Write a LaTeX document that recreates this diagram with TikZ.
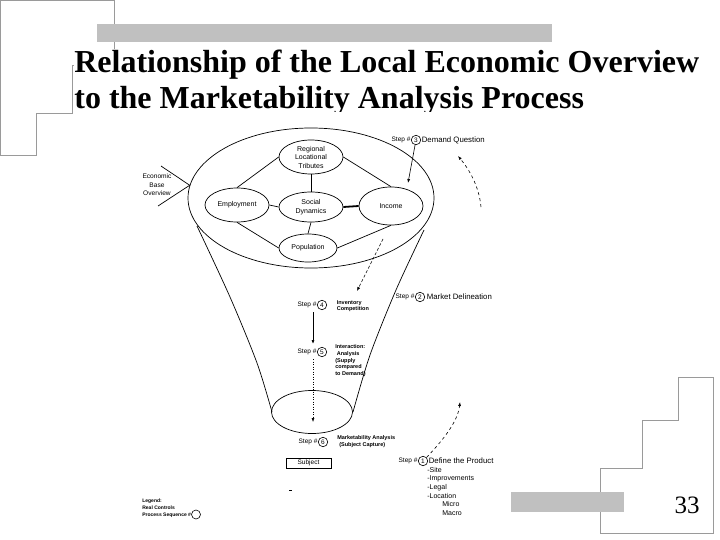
\documentclass[tikz,border=0pt]{standalone}
\usepackage{fontspec}
\setmainfont{Liberation Serif}
\newfontfamily\dsans{Liberation Sans}
\usetikzlibrary{shapes.geometric,arrows.meta}
\definecolor{stairc}{HTML}{9A9A9A}
\definecolor{barc}{HTML}{C0C0C0}
\begin{document}
\begin{tikzpicture}[x=1pt,y=-1pt,line width=0.7pt,
  titletext/.style={font=\fontsize{32}{37}\selectfont\bfseries, inner sep=0pt, anchor=base west},
  ell/.style={draw, ellipse, inner sep=0pt, align=center, font=\dsans\fontsize{7}{8.5}\selectfont},
  num/.style={draw, circle, minimum size=9.5pt, inner sep=0pt, line width=0.6pt, font=\dsans\fontsize{6.5}{6.5}\selectfont},
  steplab/.style={font=\dsans\fontsize{6.5}{7.5}\selectfont, inner sep=0pt, anchor=east},
  desc/.style={font=\dsans\fontsize{7.8}{8.6}\selectfont, inner sep=0pt, anchor=west, align=left},
  tiny/.style={font=\dsans\bfseries\fontsize{5.5}{6.6}\selectfont, inner sep=0pt, align=left},
  ar/.style={-{Latex[length=4pt,width=3pt]}},
  stairline/.style={draw=stairc, line width=1pt}]
\useasboundingbox (0,0) rectangle (720,540);
% decorations
\draw[stairline] (0.6,0.6) -- (114,0.6) -- (114,66) -- (72,66) -- (72,114) -- (36,114) -- (36,156) -- (0.6,156) -- cycle;
\fill[barc] (97,24) rectangle (552,42);
\fill[white] (74,49) rectangle (702,112);
\node[titletext] (title1) at (74,72.5) {Relationship of the Local Economic Overview};
\node[titletext] (title2) at (74,109) {to the Marketability Analysis Process};
\fill[white] (74,112) rectangle (620,127);
\draw[stairline] (678,377) -- (713,377) -- (713,533) -- (600,533) -- (600,468) -- (642,468) -- (642,420) -- (678,420) -- cycle;
\fill[barc] (511,492) rectangle (624,512);
\node[font=\fontsize{25}{25}\selectfont, inner sep=0pt, anchor=base east] (pg) at (700,513) {33};
% funnel
\node[draw, ellipse, minimum width=246pt, minimum height=140pt, inner sep=0pt] (big) at (311,198) {};
\node[draw, ellipse, minimum width=81pt, minimum height=43pt, inner sep=0pt] (base) at (312,412) {};
\draw plot[smooth] coordinates {(197,226) (230,297) (257,363) (272,412)};
\draw plot[smooth] coordinates {(424,230) (396,290) (370,355) (353,412)};
% inner ellipses
\node[ell, minimum width=64pt, minimum height=34pt] (reg) at (311,157) {Regional\\Locational\\Tributes};
\node[ell, minimum width=64pt, minimum height=34pt] (emp) at (237,205) {Employment};
\node[ell, minimum width=64pt, minimum height=30pt] (soc) at (311,207) {Social\\Dynamics};
\node[ell, minimum width=64pt, minimum height=38pt] (inc) at (391,206) {Income};
\node[ell, minimum width=58pt, minimum height=28pt] (pop) at (308,248) {Population};
\draw (reg.south) -- (soc.north);
\draw (emp.east) -- (soc.west);
\draw[line width=1.8pt] (soc.east) -- (inc.west);
\draw (soc.south) -- (pop.north);
\draw (reg.west) -- (emp.north);
\draw (reg.east) -- (inc.north);
\draw (emp.south) -- (pop.west);
\draw (inc.south) -- (pop.east);
% economic base overview
\node[font=\dsans\fontsize{6.6}{8.5}\selectfont, align=center, inner sep=0pt] (ebo) at (157,185) {Economic\\Base\\Overview};
\coordinate (eA) at (161,166);
\coordinate (eB) at (158,206);
\draw (eA) -- (big.174);
\draw (eB) -- (big.174);
% steps
\node[num] (c3) at (416,140) {3};
\node[steplab] (s3) at (410.8,140) {Step \#};
\node[desc] (t3) at (421.5,140) {Demand Question};
\node[num] (c2) at (420,297) {2};
\node[steplab] (s2) at (414.8,297) {Step \#};
\node[desc] (t2) at (426.5,297) {Market Delineation};
\node[num] (c4) at (322,305) {4};
\node[steplab] (s4) at (316.8,305) {Step \#};
\node[tiny, anchor=west] (t4) at (336.5,306) {Inventory\\Competition};
\node[num] (c5) at (322,352) {5};
\node[steplab] (s5) at (316.8,352) {Step \#};
\node[tiny, anchor=north west] (t5) at (335,344.5) {Interaction:\\\hspace*{1.5pt}Analysis\\(Supply\\compared\\to Demand)};
\node[num] (c6) at (323,442) {6};
\node[steplab] (s6) at (317.8,442) {Step \#};
\node[tiny, anchor=west] (t6) at (337,441.5) {Marketability Analysis\\\hspace*{2pt}(Subject Capture)};
\node[draw, minimum width=45pt, minimum height=10pt, inner sep=0pt, line width=0.6pt, font=\dsans\fontsize{6.5}{7}\selectfont] (subj) at (308.5,463) {Subject};
\node[num] (c1) at (423,461) {1};
\node[steplab] (s1) at (417.8,461) {Step \#};
\node[desc] (t1) at (428.5,461) {Define the Product};
\node[desc, anchor=north west, font=\dsans\fontsize{7}{8.6}\selectfont] (list1) at (427,466.8) {-Site\\-Improvements\\-Legal\\-Location\\\hspace*{15pt}Micro\\\hspace*{15pt}Macro};
% arrows
\coordinate (h3) at (408,183);
\draw[ar, line width=0.6pt] (c3) -- (h3);
\coordinate (d0) at (383,239);
\coordinate (d1) at (357,291);
\draw[ar, densely dashed, line width=0.6pt] (d0) -- (d1);
\coordinate (p4) at (313,312);
\coordinate (p5) at (313,344);
\draw[ar] (p4) -- (p5);
\coordinate (p6) at (313,359);
\coordinate (p7) at (313,422);
\draw[ar, dotted, line width=0.5pt] (p6) -- (p7);
\coordinate (q0) at (481,207);
\coordinate (q1) at (458,156);
\draw[ar, dashed, line width=0.6pt] (q0) .. controls (479,185) and (468,168) .. (q1);
\coordinate (q2) at (460,402);
\draw[ar, dashed, line width=0.6pt] (c1.north east) .. controls (446,437) and (458,420) .. (q2);
% stray mark
\coordinate (m0) at (289,490);
\coordinate (m1) at (291.5,490);
\draw[line width=0.6pt] (m0) -- (m1);
% legend
\node[tiny, anchor=base west, font=\dsans\bfseries\fontsize{5}{6}\selectfont] (lg1) at (142,502.5) {Legend:};
\node[tiny, anchor=base west, font=\dsans\bfseries\fontsize{5}{6}\selectfont] (lg2) at (142,509.5) {Real Controls};
\node[tiny, anchor=base west, font=\dsans\bfseries\fontsize{5}{6}\selectfont] (lg3) at (142,516.5) {Process Sequence \#};
\node[num, minimum size=9pt] (lc) at (196,514.5) {};
\end{tikzpicture}
\end{document}
